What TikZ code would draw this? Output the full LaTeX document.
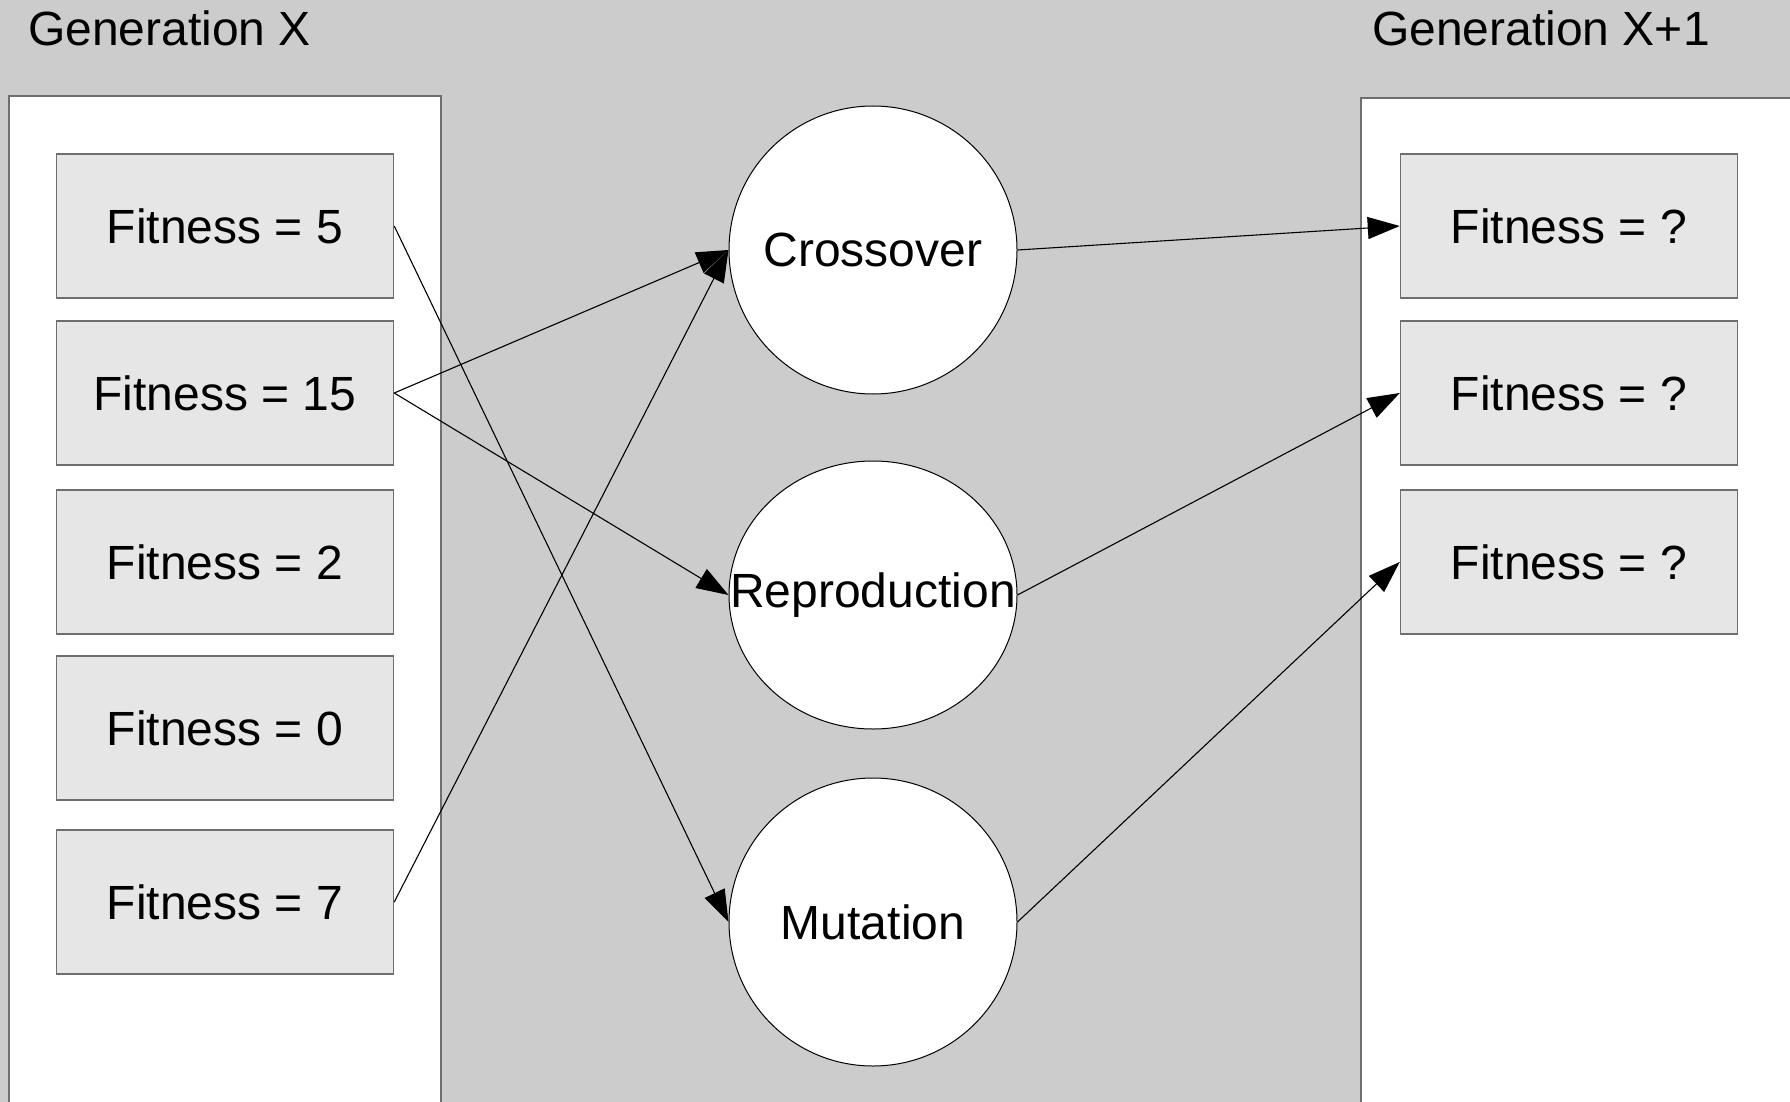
\documentclass[tikz,border=0pt]{standalone}
\usepackage{fontspec}
\setmainfont{Liberation Sans}
\usetikzlibrary{arrows.meta,shapes.geometric}
\definecolor{bggray}{HTML}{CCCCCC}
\definecolor{boxgray}{HTML}{E6E6E6}
\definecolor{edgegray}{HTML}{6E6E6E}
\begin{document}
\begin{tikzpicture}[x=1pt,y=-1pt,
  every node/.style={font=\fontsize{48}{57}\selectfont},
  panel/.style={draw=edgegray,line width=1.5pt,fill=white},
  fitbox/.style={draw=edgegray,line width=1.5pt,fill=boxgray,
    minimum width=337pt,minimum height=144pt,inner sep=0pt},
  opnode/.style={ellipse,draw=black,line width=1pt,fill=white,
    minimum width=288pt,inner sep=0pt},
  flow/.style={draw=black,line width=1.1pt,
    -{Triangle[length=32pt,width=22pt]}}]
% canvas
\fill[bggray] (0,0) rectangle (1790,1102);
\useasboundingbox (0,0) rectangle (1790,1102);
\begin{scope}
\clip (0,0) rectangle (1790,1102);
% population panels
\draw[panel] (9,96) rectangle (441,1130);
\draw[panel] (1361,98) rectangle (1820,1130);
\end{scope}
% headings
\node[anchor=base west,inner sep=0pt] (hx) at (28,46) {Generation X};
\node[anchor=base west,inner sep=0pt] (hx1) at (1372,46) {Generation X+1};
% current generation
\node[fitbox] (f5)  at (225,226) {Fitness = 5};
\node[fitbox] (f15) at (225,393) {Fitness = 15};
\node[fitbox] (f2)  at (225,562) {Fitness = 2};
\node[fitbox] (f0)  at (225,728) {Fitness = 0};
\node[fitbox] (f7)  at (225,902) {Fitness = 7};
% genetic operators
\node[opnode,minimum height=288pt] (cross) at (873,250) {\makebox[0pt]{Crossover}};
\node[opnode,minimum height=268pt] (repro) at (873,595) {\makebox[0pt]{\raisebox{-6pt}{Reproduction}}};
\node[opnode,minimum height=288pt] (mut)   at (873,922) {\makebox[0pt]{Mutation}};
% next generation
\node[fitbox] (n1) at (1569,226) {Fitness = ?};
\node[fitbox] (n2) at (1569,393) {Fitness = ?};
\node[fitbox] (n3) at (1569,562) {Fitness = ?};
% selection flows
\draw[flow] (f5.east)  -- (mut.west);
\draw[flow] (f15.east) -- (cross.west);
\draw[flow] (f15.east) -- (repro.west);
\draw[flow] (f7.east)  -- (cross.west);
\draw[flow] (cross.east) -- (n1.west);
\draw[flow] (repro.east) -- (n2.west);
\draw[flow] (mut.east)   -- (n3.west);
\end{tikzpicture}
\end{document}
